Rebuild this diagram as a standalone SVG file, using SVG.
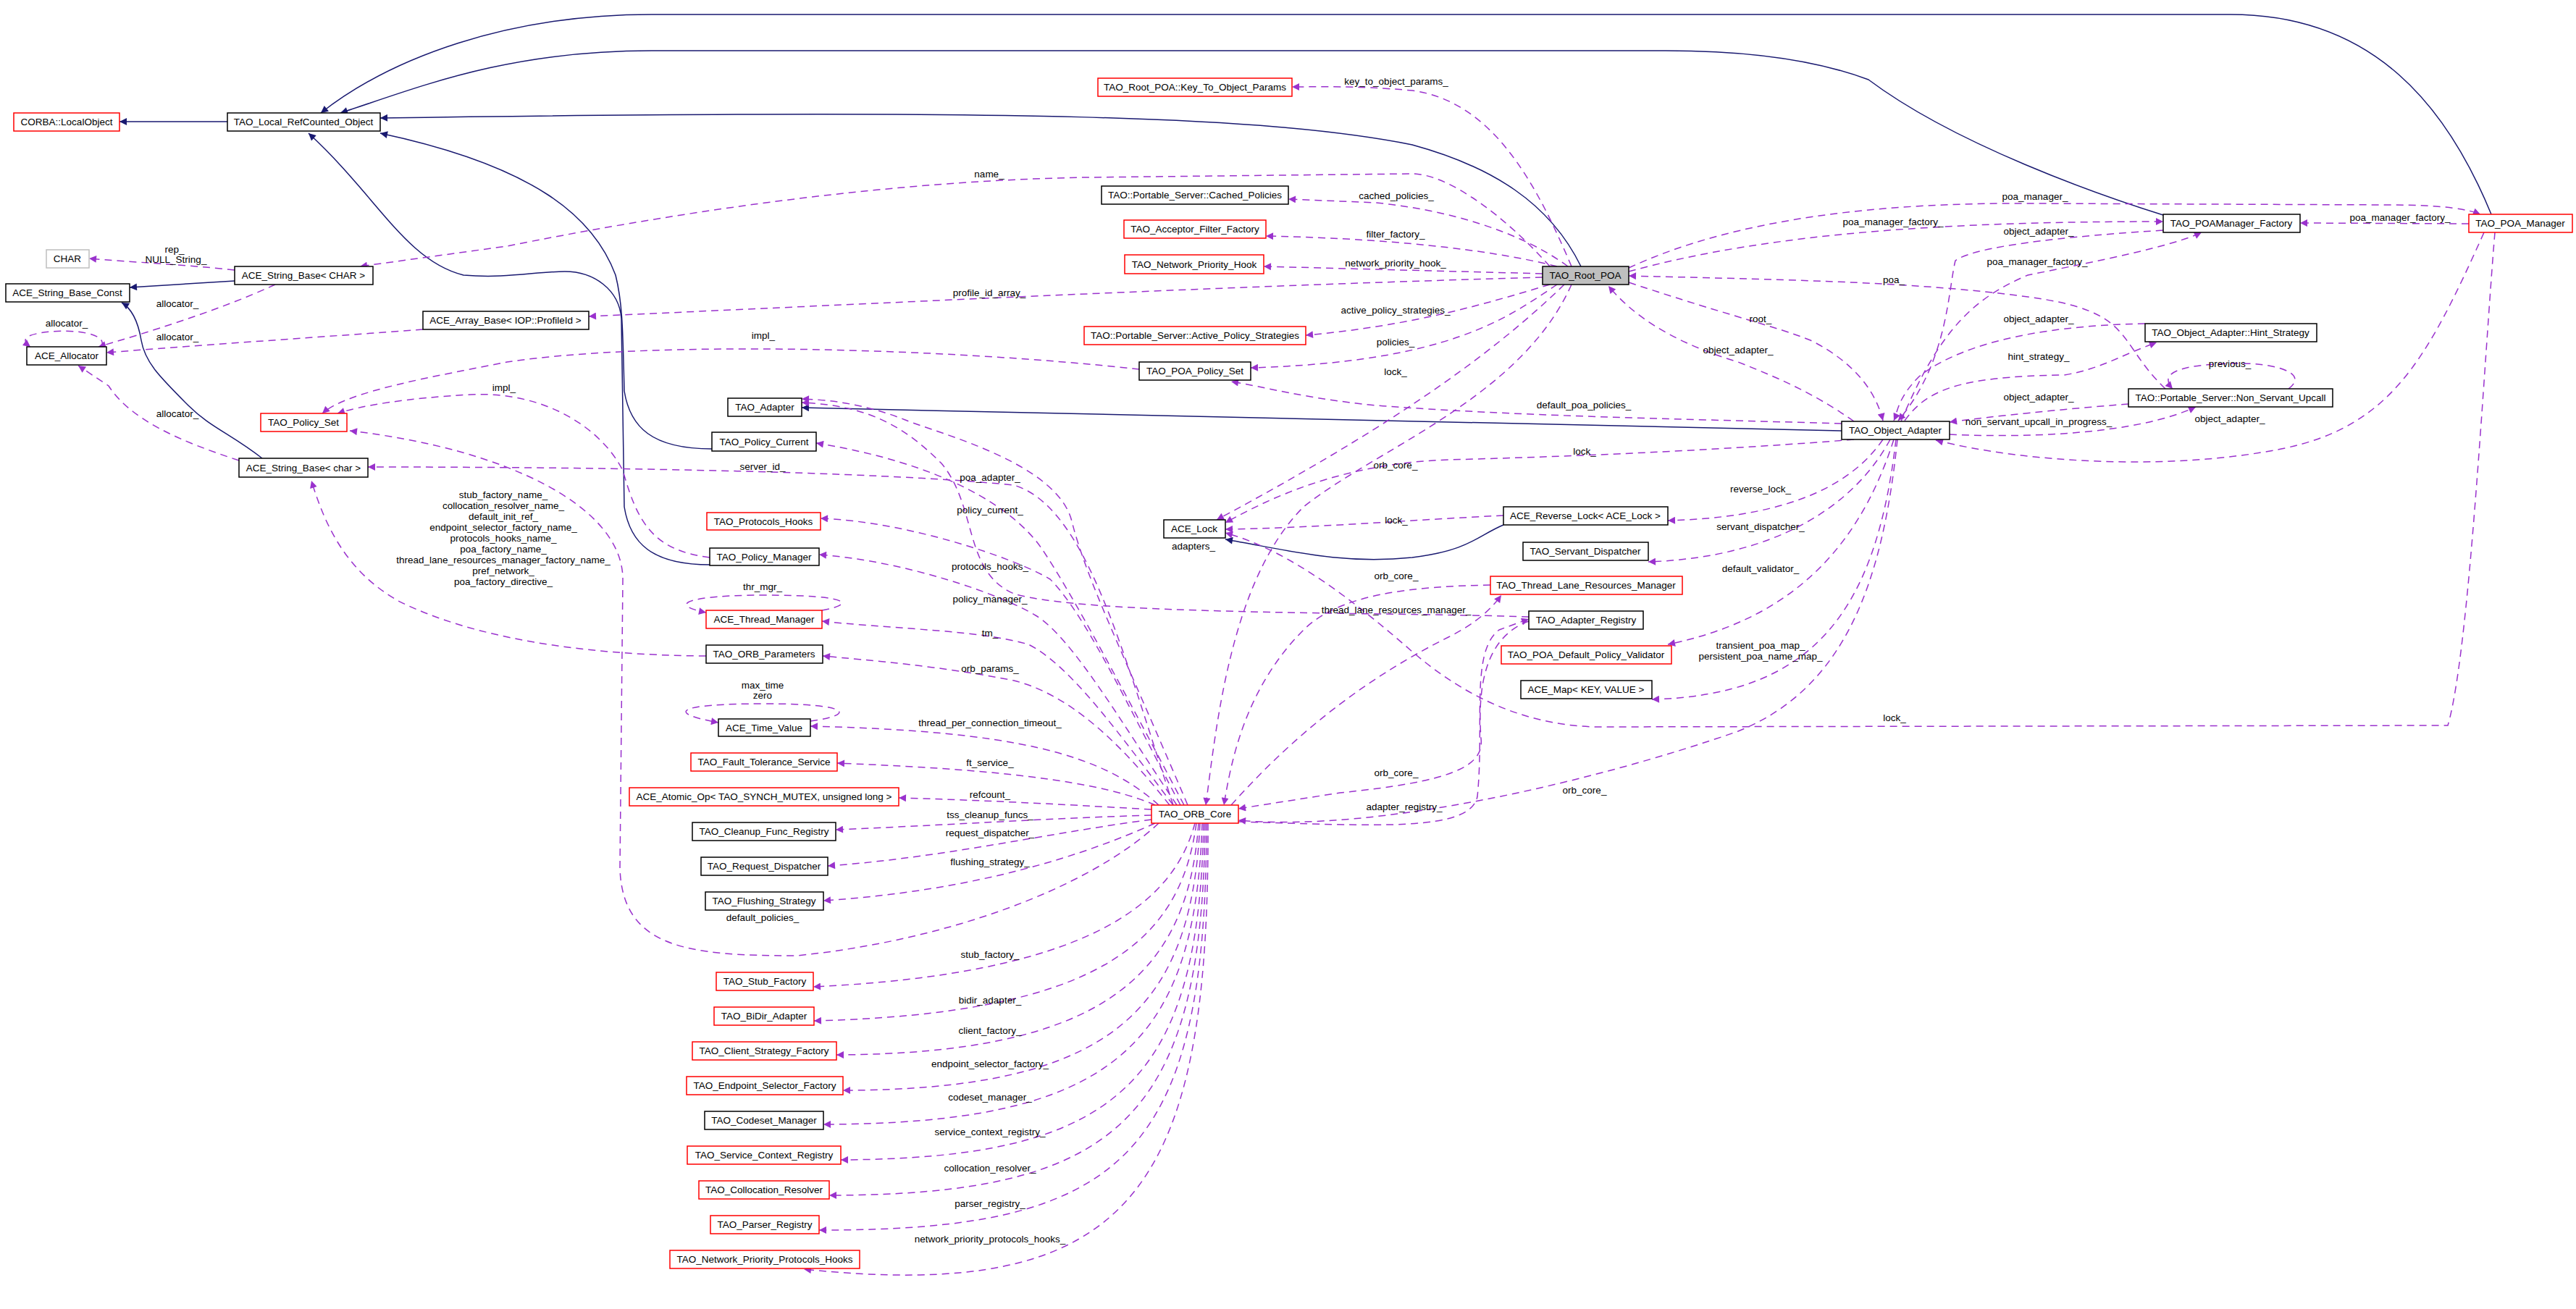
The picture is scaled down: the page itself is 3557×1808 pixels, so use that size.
<svg xmlns="http://www.w3.org/2000/svg" width="3557" height="1808" viewBox="0 0 3557 1808">
<style>
.n rect{fill:#fff;stroke:#000;stroke-width:1.5}
.n.r rect{stroke:#f00}
.n.g rect{stroke:#bfbfbf}
.n.s rect{fill:#bfbfbf}
text{font-family:"Liberation Sans",Arial,sans-serif;font-size:13.5px;fill:#000;text-anchor:middle}
.i{fill:none;stroke:#191970;stroke-width:1.5;marker-end:url(#ai)}
.u{fill:none;stroke:#9a32cd;stroke-width:1.5;stroke-dasharray:10,7;marker-end:url(#au)}
.l{font-size:13px}
</style>
<defs>
<marker id="ai" viewBox="0 0 10 10" refX="10" refY="5" markerWidth="14" markerHeight="10" markerUnits="userSpaceOnUse" orient="auto"><path d="M0,0 L10,5 L0,10z" fill="#191970"/></marker>
<marker id="au" viewBox="0 0 10 10" refX="10" refY="5" markerWidth="14" markerHeight="10" markerUnits="userSpaceOnUse" orient="auto"><path d="M0,0 L10,5 L0,10z" fill="#9a32cd"/></marker>
</defs>
<rect width="3557" height="1808" fill="#fff"/>
<g id="edges">
<path class="i" d="M314,168 L165,168"/>
<path class="i" d="M3440,296 C3380,150 3280,20 3080,20 L900,20 C700,20 540,80 443,156"/>
<path class="i" d="M2990,298 C2900,270 2700,200 2580,110 C2500,80 2400,70 2300,70 L900,70 C700,70 580,120 470,156"/>
<path class="i" d="M2183,368 C2140,280 2060,230 1950,200 C1750,160 1400,150 525,163"/>
<path class="i" d="M983,620 C900,620 870,590 862,540 C860,460 860,420 850,380 C820,300 740,230 525,184"/>
<path class="i" d="M980,780 C900,780 870,750 862,700 L858,440 C855,400 820,375 780,375 C740,375 700,385 640,380 C560,360 520,270 426,184"/>
<path class="i" d="M324,388 L179,397"/>
<path class="i" d="M362,633 C320,600 290,590 260,560 C220,520 200,500 195,470 C190,440 180,425 168,418"/>
<path class="i" d="M2543,595 L1107,563"/>
<path class="i" d="M2076,725 C2040,740 2030,760 1950,770 C1850,780 1780,760 1692,745"/>

<path class="u" d="M2170,368 C2120,250 2060,140 1950,125 C1870,118 1820,120 1784,120"/>
<path class="u" d="M2165,368 C2100,320 2000,290 1900,280 L1779,275"/>
<path class="u" d="M2150,368 C2080,350 1950,330 1748,326"/>
<path class="u" d="M2130,378 L1745,368"/>
<path class="u" d="M2140,368 C2080,300 2000,240 1950,240 L1500,245 C1200,250 900,300 700,340 L497,368"/>
<path class="u" d="M2130,383 C1700,395 1300,415 813,437"/>
<path class="u" d="M2140,393 C2050,420 1950,450 1803,463"/>
<path class="u" d="M2150,393 C2080,440 2000,500 1727,508"/>
<path class="u" d="M2160,393 C2050,500 1900,600 1680,718"/>
<path class="u" d="M2170,393 C2100,550 1900,620 1800,700 C1700,800 1680,1000 1665,1112"/>
<path class="u" d="M2249,375 C2450,320 2700,306 2987,306"/>
<path class="u" d="M2249,370 C2400,300 2600,280 2800,281 L3300,283 C3380,283 3410,290 3425,296"/>
<path class="u" d="M2987,318 C2800,330 2720,345 2700,360 C2690,400 2690,500 2621,581"/>
<path class="u" d="M2625,582 C2680,450 2730,410 2800,380 C2900,360 3000,340 3040,321"/>
<path class="u" d="M2990,537 C2920,470 2950,430 2800,410 C2650,390 2500,387 2249,381"/>
<path class="u" d="M2249,390 C2400,440 2450,450 2500,470 C2560,500 2590,540 2600,581"/>
<path class="u" d="M2560,582 C2500,540 2450,520 2400,500 C2300,470 2250,430 2221,395"/>
<path class="u" d="M2543,585 C2300,578 2100,575 1900,560 C1800,550 1750,535 1700,527"/>
<path class="u" d="M2962,447 C2800,450 2700,480 2650,520 C2620,550 2620,570 2615,581"/>
<path class="u" d="M2630,581 C2660,540 2700,520 2850,518 C2900,510 2930,490 2978,473"/>
<path class="u" d="M3160,537 C3190,515 3140,500 3080,502 C3010,504 2980,515 3000,537"/>
<path class="u" d="M2939,558 C2850,565 2750,575 2692,583"/>
<path class="u" d="M2692,600 C2800,605 2950,600 3032,562"/>
<path class="u" d="M3430,321 C3350,500 3300,590 3150,620 C3000,650 2800,640 2673,608"/>
<path class="u" d="M3409,309 L3176,308"/>
<path class="u" d="M3445,321 C3430,500 3410,900 3380,1002 L2200,1004 C2100,1000 2020,960 1950,900 C1870,830 1780,760 1692,736"/>
<path class="u" d="M2560,607 C2400,620 2200,630 2000,635 C1850,640 1750,690 1692,722"/>
<path class="u" d="M2076,712 C1950,718 1800,730 1692,731"/>
<path class="u" d="M2600,607 C2550,680 2450,715 2303,719"/>
<path class="u" d="M2610,607 C2560,700 2450,770 2276,776"/>
<path class="u" d="M2615,607 C2560,780 2450,860 2303,890"/>
<path class="u" d="M2618,607 C2590,850 2500,960 2281,966"/>
<path class="u" d="M2620,607 C2600,800 2550,950 2400,1010 C2200,1080 1900,1150 1710,1133"/>
<path class="u" d="M2058,808 C1950,810 1850,820 1800,870 C1720,950 1700,1050 1690,1112"/>
<path class="u" d="M1700,1112 C1800,1000 1900,930 2000,880 C2040,860 2060,840 2073,822"/>
<path class="u" d="M2111,858 C2050,880 2040,950 2045,1020 C2050,1060 2000,1080 1850,1095 L1710,1117"/>
<path class="u" d="M1710,1135 C1900,1140 2030,1150 2040,1100 C2050,1000 2030,900 2070,870 L2111,855"/>
<path class="u" d="M2111,852 C1900,845 1500,850 1400,820 C1330,790 1350,700 1300,640 C1250,590 1200,560 1107,556"/>
<path class="u" d="M1640,1112 C1550,900 1500,800 1480,720 C1460,640 1300,600 1250,580 C1200,560 1150,552 1107,551"/>
<path class="u" d="M1635,1112 C1550,950 1480,820 1440,760 C1400,700 1300,640 1127,612"/>
<path class="u" d="M1630,1112 C1560,980 1500,850 1450,800 C1400,770 1250,720 1133,716"/>
<path class="u" d="M1625,1112 C1550,1000 1480,880 1430,850 C1380,820 1250,775 1131,766"/>
<path class="u" d="M1620,1112 C1550,1020 1480,920 1420,890 C1350,870 1250,870 1135,858"/>
<path class="u" d="M1615,1112 C1550,1030 1480,960 1400,940 C1300,920 1200,912 1136,906"/>
<path class="u" d="M1600,1112 C1520,1040 1400,1010 1119,1003"/>
<path class="u" d="M1595,1112 C1500,1070 1300,1060 1156,1054"/>
<path class="u" d="M1590,1118 C1450,1110 1350,1105 1241,1102"/>
<path class="u" d="M1590,1126 C1450,1130 1300,1140 1154,1146"/>
<path class="u" d="M1590,1132 C1450,1150 1300,1185 1143,1196"/>
<path class="u" d="M1595,1137 C1500,1180 1350,1230 1137,1244"/>
<path class="u" d="M1600,1137 C1500,1230 1300,1300 1100,1320 C950,1320 860,1310 856,1200 L860,800 C860,700 700,620 483,595"/>
<path class="u" d="M1620,1112 C1550,900 1500,700 1400,670 C1200,650 800,645 508,645"/>
<path class="u" d="M975,906 C800,905 650,880 550,830 C480,790 450,730 430,664"/>
<path class="u" d="M1650,1137 C1620,1250 1500,1345 1123,1363"/>
<path class="u" d="M1652,1137 C1630,1300 1520,1400 1124,1410"/>
<path class="u" d="M1655,1137 C1640,1350 1520,1455 1155,1457"/>
<path class="u" d="M1657,1137 C1645,1400 1530,1505 1164,1506"/>
<path class="u" d="M1660,1137 C1650,1450 1530,1552 1137,1553"/>
<path class="u" d="M1662,1137 C1655,1500 1540,1600 1161,1602"/>
<path class="u" d="M1664,1137 C1660,1550 1540,1650 1145,1651"/>
<path class="u" d="M1666,1137 C1665,1600 1550,1700 1131,1699"/>
<path class="u" d="M1668,1137 C1670,1650 1560,1800 1110,1753"/>
<path class="u" d="M1573,510 C1300,480 900,470 700,500 C600,520 480,540 445,571"/>
<path class="u" d="M980,770 C900,760 880,720 860,650 C830,590 750,540 650,545 C560,550 500,560 466,571"/>
<path class="u" d="M380,393 C300,430 200,460 136,479"/>
<path class="u" d="M584,455 C450,465 300,475 147,487"/>
<path class="u" d="M330,636 C250,610 180,580 150,533 L108,505"/>
<path class="u" d="M140,479 C150,460 100,455 70,458 C30,462 30,470 42,479"/>
<path class="u" d="M324,373 C250,365 180,362 123,357"/>
<path class="u" d="M1135,843 C1180,835 1180,822 1055,822 C950,822 920,835 975,846"/>
<path class="u" d="M1119,996 C1180,988 1180,972 1055,972 C930,972 920,985 992,998"/>
<g class="l">
<text x="1928" y="117">key_to_object_params_</text>
<text x="1928" y="275">cached_policies_</text>
<text x="1927" y="328">filter_factory_</text>
<text x="1927" y="368">network_priority_hook_</text>
<text x="1366" y="245">name_</text>
<text x="1366" y="409">profile_id_array_</text>
<text x="1927" y="433">active_policy_strategies_</text>
<text x="1927" y="477">policies_</text>
<text x="1927" y="518">lock_</text>
<text x="1927" y="647">orb_core_</text>
<text x="2187" y="564">default_poa_policies_</text>
<text x="2614" y="311">poa_manager_factory_</text>
<text x="2810" y="276">poa_manager_</text>
<text x="2815" y="324">object_adapter_</text>
<text x="2813" y="366">poa_manager_factory_</text>
<text x="2615" y="391">poa_</text>
<text x="2431" y="445">root_</text>
<text x="2400" y="488">object_adapter_</text>
<text x="2815" y="445">object_adapter_</text>
<text x="2815" y="497">hint_strategy_</text>
<text x="3079" y="507">previous_</text>
<text x="2815" y="553">object_adapter_</text>
<text x="2815" y="587">non_servant_upcall_in_progress_</text>
<text x="3079" y="583">object_adapter_</text>
<text x="3314" y="305">poa_manager_factory_</text>
<text x="2616" y="996">lock_</text>
<text x="2188" y="628">lock_</text>
<text x="1928" y="723">lock_</text>
<text x="2431" y="680">reverse_lock_</text>
<text x="2431" y="732">servant_dispatcher_</text>
<text x="2431" y="790">default_validator_</text>
<text x="2431" y="896">transient_poa_map_</text>
<text x="2431" y="911">persistent_poa_name_map_</text>
<text x="2188" y="1096">orb_core_</text>
<text x="1928" y="800">orb_core_</text>
<text x="1928" y="847">thread_lane_resources_manager_</text>
<text x="1928" y="1072">orb_core_</text>
<text x="1939" y="1119">adapter_registry_</text>
<text x="1648" y="759">adapters_</text>
<text x="1367" y="664">poa_adapter_</text>
<text x="1367" y="709">policy_current_</text>
<text x="1367" y="787">protocols_hooks_</text>
<text x="1367" y="832">policy_manager_</text>
<text x="1367" y="879">tm_</text>
<text x="1367" y="928">orb_params_</text>
<text x="1367" y="1003">thread_per_connection_timeout_</text>
<text x="1367" y="1058">ft_service_</text>
<text x="1367" y="1102">refcount_</text>
<text x="1367" y="1130">tss_cleanup_funcs_</text>
<text x="1367" y="1155">request_dispatcher_</text>
<text x="1367" y="1195">flushing_strategy_</text>
<text x="1053" y="1272">default_policies_</text>
<text x="1053" y="649">server_id_</text>
<text x="695" y="688">stub_factory_name_</text>
<text x="695" y="703">collocation_resolver_name_</text>
<text x="695" y="718">default_init_ref_</text>
<text x="695" y="733">endpoint_selector_factory_name_</text>
<text x="695" y="748">protocols_hooks_name_</text>
<text x="695" y="763">poa_factory_name_</text>
<text x="695" y="778">thread_lane_resources_manager_factory_name_</text>
<text x="695" y="793">pref_network_</text>
<text x="695" y="808">poa_factory_directive_</text>
<text x="1367" y="1323">stub_factory_</text>
<text x="1367" y="1386">bidir_adapter_</text>
<text x="1367" y="1428">client_factory_</text>
<text x="1367" y="1474">endpoint_selector_factory_</text>
<text x="1367" y="1520">codeset_manager_</text>
<text x="1367" y="1568">service_context_registry_</text>
<text x="1367" y="1618">collocation_resolver_</text>
<text x="1367" y="1667">parser_registry_</text>
<text x="1367" y="1716">network_priority_protocols_hooks_</text>
<text x="1054" y="468">impl_</text>
<text x="696" y="540">impl_</text>
<text x="245" y="424">allocator_</text>
<text x="245" y="470">allocator_</text>
<text x="245" y="576">allocator_</text>
<text x="92" y="451">allocator_</text>
<text x="241" y="349">rep_</text>
<text x="243" y="363">NULL_String_</text>
<text x="1053" y="815">thr_mgr_</text>
<text x="1053" y="951">max_time</text>
<text x="1053" y="965">zero</text>
</g>
</g>
<g id="corba" class="n r"><rect x="19" y="156" width="146" height="25"/><text x="92" y="173">CORBA::LocalObject</text></g>
<g id="lrco" class="n"><rect x="314" y="156" width="211" height="25"/><text x="419" y="173">TAO_Local_RefCounted_Object</text></g>
<g id="char" class="n g"><rect x="64" y="345" width="59" height="25"/><text x="93" y="362">CHAR</text></g>
<g id="sbCHAR" class="n"><rect x="324" y="368" width="191" height="25"/><text x="419" y="385">ACE_String_Base&lt; CHAR &gt;</text></g>
<g id="sbConst" class="n"><rect x="8" y="392" width="171" height="25"/><text x="93" y="409">ACE_String_Base_Const</text></g>
<g id="alloc" class="n"><rect x="37" y="479" width="110" height="25"/><text x="92" y="496">ACE_Allocator</text></g>
<g id="arrayBase" class="n"><rect x="584" y="430" width="229" height="25"/><text x="698" y="447">ACE_Array_Base&lt; IOP::ProfileId &gt;</text></g>
<g id="policySet" class="n r"><rect x="360" y="571" width="119" height="25"/><text x="419" y="588">TAO_Policy_Set</text></g>
<g id="adapter" class="n"><rect x="1005" y="550" width="102" height="25"/><text x="1056" y="567">TAO_Adapter</text></g>
<g id="policyCurrent" class="n"><rect x="983" y="597" width="144" height="26"/><text x="1055" y="615">TAO_Policy_Current</text></g>
<g id="sbchar" class="n"><rect x="330" y="633" width="178" height="26"/><text x="419" y="651">ACE_String_Base&lt; char &gt;</text></g>
<g id="protocolsHooks" class="n r"><rect x="976" y="708" width="157" height="24"/><text x="1054" y="725">TAO_Protocols_Hooks</text></g>
<g id="policyManager" class="n"><rect x="980" y="757" width="151" height="24"/><text x="1055" y="774">TAO_Policy_Manager</text></g>
<g id="threadManager" class="n r"><rect x="975" y="843" width="160" height="25"/><text x="1055" y="860">ACE_Thread_Manager</text></g>
<g id="orbParams" class="n"><rect x="975" y="891" width="161" height="25"/><text x="1055" y="908">TAO_ORB_Parameters</text></g>
<g id="timeValue" class="n"><rect x="992" y="993" width="127" height="24"/><text x="1055" y="1010">ACE_Time_Value</text></g>
<g id="ft" class="n r"><rect x="954" y="1040" width="202" height="25"/><text x="1055" y="1057">TAO_Fault_Tolerance_Service</text></g>
<g id="atomic" class="n r"><rect x="869" y="1088" width="372" height="25"/><text x="1055" y="1105">ACE_Atomic_Op&lt; TAO_SYNCH_MUTEX, unsigned long &gt;</text></g>
<g id="cleanup" class="n"><rect x="956" y="1136" width="198" height="25"/><text x="1055" y="1153">TAO_Cleanup_Func_Registry</text></g>
<g id="reqDisp" class="n"><rect x="968" y="1184" width="175" height="25"/><text x="1055" y="1201">TAO_Request_Dispatcher</text></g>
<g id="flush" class="n"><rect x="974" y="1232" width="163" height="25"/><text x="1055" y="1249">TAO_Flushing_Strategy</text></g>
<g id="stub" class="n r"><rect x="989" y="1343" width="134" height="25"/><text x="1056" y="1360">TAO_Stub_Factory</text></g>
<g id="bidir" class="n r"><rect x="986" y="1391" width="138" height="25"/><text x="1055" y="1408">TAO_BiDir_Adapter</text></g>
<g id="client" class="n r"><rect x="956" y="1439" width="199" height="25"/><text x="1055" y="1456">TAO_Client_Strategy_Factory</text></g>
<g id="endpoint" class="n r"><rect x="948" y="1487" width="216" height="25"/><text x="1056" y="1504">TAO_Endpoint_Selector_Factory</text></g>
<g id="codeset" class="n"><rect x="973" y="1535" width="164" height="25"/><text x="1055" y="1552">TAO_Codeset_Manager</text></g>
<g id="svcctx" class="n r"><rect x="949" y="1583" width="212" height="25"/><text x="1055" y="1600">TAO_Service_Context_Registry</text></g>
<g id="colloc" class="n r"><rect x="965" y="1631" width="180" height="25"/><text x="1055" y="1648">TAO_Collocation_Resolver</text></g>
<g id="parser" class="n r"><rect x="981" y="1679" width="150" height="25"/><text x="1056" y="1696">TAO_Parser_Registry</text></g>
<g id="nph" class="n r"><rect x="925" y="1727" width="262" height="25"/><text x="1056" y="1744">TAO_Network_Priority_Protocols_Hooks</text></g>
<g id="orbCore" class="n r"><rect x="1590" y="1112" width="120" height="25"/><text x="1650" y="1129">TAO_ORB_Core</text></g>
<g id="aceLock" class="n"><rect x="1607" y="718" width="85" height="25"/><text x="1649" y="735">ACE_Lock</text></g>
<g id="keyParams" class="n r"><rect x="1516" y="108" width="268" height="25"/><text x="1650" y="125">TAO_Root_POA::Key_To_Object_Params</text></g>
<g id="cached" class="n"><rect x="1521" y="257" width="258" height="25"/><text x="1650" y="274">TAO::Portable_Server::Cached_Policies</text></g>
<g id="filter" class="n r"><rect x="1552" y="304" width="196" height="25"/><text x="1650" y="321">TAO_Acceptor_Filter_Factory</text></g>
<g id="nethook" class="n r"><rect x="1553" y="352" width="192" height="26"/><text x="1649" y="370">TAO_Network_Priority_Hook</text></g>
<g id="rootPoa" class="n s"><rect x="2130" y="368" width="119" height="25"/><text x="2189" y="385">TAO_Root_POA</text></g>
<g id="active" class="n r"><rect x="1497" y="451" width="306" height="25"/><text x="1650" y="468">TAO::Portable_Server::Active_Policy_Strategies</text></g>
<g id="poaPolicySet" class="n"><rect x="1573" y="500" width="154" height="25"/><text x="1650" y="517">TAO_POA_Policy_Set</text></g>
<g id="factory" class="n"><rect x="2987" y="296" width="189" height="25"/><text x="3081" y="313">TAO_POAManager_Factory</text></g>
<g id="poaManager" class="n r"><rect x="3409" y="296" width="143" height="25"/><text x="3480" y="313">TAO_POA_Manager</text></g>
<g id="hint" class="n"><rect x="2962" y="447" width="237" height="25"/><text x="3080" y="464">TAO_Object_Adapter::Hint_Strategy</text></g>
<g id="nsu" class="n"><rect x="2939" y="537" width="282" height="25"/><text x="3080" y="554">TAO::Portable_Server::Non_Servant_Upcall</text></g>
<g id="oa" class="n"><rect x="2543" y="582" width="149" height="25"/><text x="2617" y="599">TAO_Object_Adapter</text></g>
<g id="revLock" class="n"><rect x="2076" y="700" width="227" height="25"/><text x="2189" y="717">ACE_Reverse_Lock&lt; ACE_Lock &gt;</text></g>
<g id="servDisp" class="n"><rect x="2103" y="749" width="173" height="25"/><text x="2189" y="766">TAO_Servant_Dispatcher</text></g>
<g id="tlrm" class="n r"><rect x="2058" y="796" width="265" height="25"/><text x="2190" y="813">TAO_Thread_Lane_Resources_Manager</text></g>
<g id="adReg" class="n"><rect x="2111" y="844" width="158" height="25"/><text x="2190" y="861">TAO_Adapter_Registry</text></g>
<g id="validator" class="n r"><rect x="2073" y="892" width="235" height="25"/><text x="2190" y="909">TAO_POA_Default_Policy_Validator</text></g>
<g id="aceMap" class="n"><rect x="2100" y="940" width="181" height="25"/><text x="2190" y="957">ACE_Map&lt; KEY, VALUE &gt;</text></g>
</svg>
